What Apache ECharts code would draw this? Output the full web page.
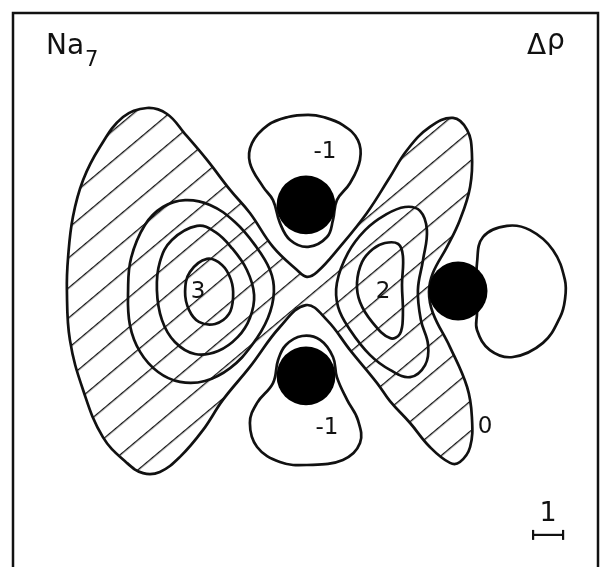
<!DOCTYPE html>
<html>
<head>
<meta charset="utf-8">
<script src="https://cdn.jsdelivr.net/npm/echarts@6/dist/echarts.min.js"></script>
<style>
  html, body { margin: 0; padding: 0; background: #fff; }
  #main { width: 600px; height: 567px; }
</style>
</head>
<body>
<div id="main"></div>
<script>
// Difference density Δρ of Na7, contour map. Lengths are in units of the scale bar (1).

// Zero contour: boundary of the positive (hatched) region
const contourZero = [
  [-5.30, 6.10], [-4.63, 5.90], [-4.03, 5.23], [-3.30, 4.37], [-2.53, 3.37], [-1.87, 2.60],
  [-1.10, 1.47], [-0.30, 0.70], [0.03, 0.47], [0.37, 0.63], [1.13, 1.47], [2.03, 2.60],
  [2.80, 3.80], [3.37, 4.70], [4.13, 5.47], [4.90, 5.77], [5.37, 5.37], [5.53, 4.60],
  [5.47, 3.47], [5.13, 2.37], [4.70, 1.47], [4.23, 0.60], [4.10, -0.03], [4.23, -0.73],
  [4.80, -1.87], [5.37, -3.20], [5.53, -4.20], [5.47, -5.20], [5.13, -5.70], [4.80, -5.73],
  [4.13, -5.20], [3.47, -4.40], [2.80, -3.67], [2.37, -3.07], [1.47, -1.97], [0.70, -0.97],
  [0.00, -0.47], [-0.87, -1.20], [-1.87, -2.53], [-2.77, -3.63], [-3.43, -4.63], [-4.20, -5.53],
  [-4.87, -6.03], [-5.43, -6.07], [-5.97, -5.73], [-6.77, -4.87], [-7.43, -3.30], [-7.87, -1.63],
  [-7.97, 0.03], [-7.93, 1.13], [-7.77, 2.47], [-7.43, 3.70], [-6.87, 4.80], [-6.10, 5.80]
];

// Positive contours around the left maximum (levels 1, 2, 3)
const contourLeft1 = [
  [-4.03, 3.03], [-3.20, 2.87], [-2.37, 2.30], [-1.70, 1.53], [-1.20, 0.70], [-1.07, -0.03],
  [-1.27, -0.90], [-1.80, -1.80], [-2.53, -2.57], [-3.37, -3.00], [-4.20, -3.03], [-4.93, -2.70],
  [-5.53, -2.03], [-5.87, -1.13], [-5.93, 0.03], [-5.83, 1.10], [-5.37, 2.20], [-4.77, 2.80]
];
const contourLeft2 = [
  [-3.63, 2.17], [-3.03, 1.97], [-2.47, 1.43], [-1.97, 0.70], [-1.73, -0.13], [-1.87, -0.90],
  [-2.27, -1.53], [-2.93, -2.00], [-3.70, -2.10], [-4.37, -1.70], [-4.80, -0.97], [-4.97, 0.03],
  [-4.87, 0.97], [-4.47, 1.70]
];
const contourLeft3 = [
  [-3.30, 1.07], [-2.80, 0.87], [-2.50, 0.37], [-2.43, -0.20], [-2.57, -0.77], [-3.03, -1.10],
  [-3.57, -1.03], [-3.90, -0.63], [-4.03, -0.03], [-3.87, 0.63]
];

// Positive contours around the right maximum (levels 1, 2)
const contourRight1 = [
  [3.30, 2.80], [3.80, 2.67], [4.03, 2.03], [3.90, 1.03], [3.73, 0.03], [3.83, -0.97],
  [4.07, -1.80], [3.97, -2.47], [3.47, -2.87], [2.80, -2.63], [2.13, -2.13], [1.47, -1.30],
  [1.07, -0.53], [1.03, 0.27], [1.40, 1.27], [1.97, 2.03], [2.63, 2.53]
];
const contourRight2 = [
  [2.63, 1.60], [3.07, 1.57], [3.23, 1.17], [3.20, 0.20], [3.23, -0.80], [3.13, -1.43],
  [2.80, -1.57], [2.20, -1.03], [1.80, -0.37], [1.70, 0.27], [1.87, 0.97], [2.23, 1.40]
];

// Negative lobes (level -1)
const contourTopNeg = [
  [0.07, 5.87], [0.57, 5.80], [1.23, 5.53], [1.73, 5.03], [1.80, 4.37], [1.47, 3.60],
  [1.03, 3.03], [0.90, 2.37], [0.70, 1.80], [0.07, 1.47], [-0.53, 1.70], [-0.87, 2.27],
  [-1.10, 3.03], [-1.43, 3.47], [-1.87, 4.27], [-1.80, 4.93], [-1.27, 5.53], [-0.60, 5.80]
];
const contourBottomNeg = [
  [-0.13, -1.50], [0.47, -1.63], [0.90, -2.20], [1.03, -2.87], [1.37, -3.63], [1.73, -4.30],
  [1.80, -5.07], [1.23, -5.63], [0.03, -5.80], [-0.87, -5.70], [-1.63, -5.20], [-1.87, -4.40],
  [-1.63, -3.73], [-1.10, -3.07], [-0.93, -2.30], [-0.67, -1.80]
];
const contourRightNeg = [
  [6.70, 2.17], [7.47, 2.03], [8.23, 1.37], [8.63, 0.37], [8.63, -0.30], [8.47, -0.87],
  [7.90, -1.73], [6.90, -2.20], [6.13, -1.97], [5.70, -1.30], [5.70, -0.73], [5.70, 0.03],
  [5.70, 0.93], [5.90, 1.80]
];

const contourLevels = [0, 1, 2, 3, 1, 2, -1, -1, -1];
const contourPaths = [
  contourZero, contourLeft1, contourLeft2, contourLeft3,
  contourRight1, contourRight2, contourTopNeg, contourBottomNeg, contourRightNeg
];

// Nuclei positions
const atomX = [0.00, 0.00, 5.07];
const atomY = [2.87, -2.83, 0.00];

// Contour level labels
const labelText = ['3', '2', '0', '-1', '-1'];
const labelX = [-3.60, 2.57, 5.97, 0.63, 0.70];
const labelY = [-0.03, -0.03, -4.53, 4.63, -4.57];

// Length scale bar
const scaleBarStart = [7.57, -8.13];
const scaleBarLength = 1;
const scaleBarText = '1';

const FONT = '"DejaVu Sans", "Liberation Sans", sans-serif';
const INK = '#111';
const ATOM_R = 0.98;
const HATCH_GAP = 23;
const HATCH_ANGLE = 40;

// Tile with one horizontal stroke; rotated to give the diagonal hatching
const tile = document.createElement('canvas');
tile.width = 8;
tile.height = HATCH_GAP;
const tctx = tile.getContext('2d');
tctx.fillStyle = INK;
tctx.fillRect(0, Math.floor(HATCH_GAP / 2), 8, 1.3);
const hatchFill = {
  image: tile,
  repeat: 'repeat',
  rotation: -HATCH_ANGLE * Math.PI / 180
};

const titleStyle = (size) => ({ fontFamily: FONT, fontSize: size, fontWeight: 'normal', color: INK });

const chart = echarts.init(document.getElementById('main'));
chart.setOption({
  animation: false,
  backgroundColor: '#fff',
  title: [
    { text: 'Na', left: 46, top: 33, padding: 0, textStyle: titleStyle(28) },
    { text: '7', left: 85, top: 50, padding: 0, textStyle: titleStyle(21) },
    { text: 'Δ', left: 527, top: 33, padding: 0, textStyle: titleStyle(28) },
    { text: 'ρ', left: 547, top: 28, padding: 0, textStyle: titleStyle(28) }
  ],
  // frame around the map
  graphic: [{
    type: 'polyline',
    silent: true,
    shape: { points: [[13, 567], [13, 13], [598, 13], [598, 567]] },
    style: { fill: 'none', stroke: INK, lineWidth: 2.5 }
  }],
  grid: { left: 12, top: 12, right: 0, bottom: 0, show: false },
  xAxis: { type: 'value', min: -9.8, max: 9.8, show: false },
  yAxis: { type: 'value', min: -9.2, max: 9.3, show: false },
  series: [
    {
      type: 'custom',
      name: 'contours',
      silent: true,
      z: 2,
      data: contourLevels.map((lv, i) => [i, lv]),
      renderItem: (params, api) => {
        const idx = params.dataIndex;
        const pts = contourPaths[idx].map(p => api.coord(p));
        return {
          type: 'polygon',
          shape: { points: pts, smooth: 0.4 },
          style: {
            fill: contourLevels[idx] === 0 ? hatchFill : 'none',
            stroke: INK,
            lineWidth: 2.7
          }
        };
      }
    },
    {
      type: 'custom',
      name: 'atoms',
      silent: true,
      z: 3,
      data: atomX.map((x, i) => [x, atomY[i]]),
      renderItem: (params, api) => {
        const c = api.coord([api.value(0), api.value(1)]);
        const r = api.size([ATOM_R, 0])[0];
        return { type: 'circle', shape: { cx: c[0], cy: c[1], r: r }, style: { fill: '#000' } };
      }
    },
    {
      type: 'custom',
      name: 'levels',
      silent: true,
      z: 4,
      data: labelX.map((x, i) => [x, labelY[i]]),
      renderItem: (params, api) => {
        const c = api.coord([api.value(0), api.value(1)]);
        return {
          type: 'text', x: c[0], y: c[1],
          style: {
            text: labelText[params.dataIndex], fill: INK,
            fontFamily: FONT, fontSize: 23, align: 'center', verticalAlign: 'middle'
          }
        };
      }
    },
    {
      type: 'custom',
      name: 'scale',
      silent: true,
      z: 4,
      data: [[scaleBarStart[0], scaleBarStart[1]]],
      renderItem: (params, api) => {
        const a = api.coord([api.value(0), api.value(1)]);
        const b = api.coord([api.value(0) + scaleBarLength, api.value(1)]);
        const lineStyle = { stroke: INK, lineWidth: 2.2 };
        return {
          type: 'group',
          children: [
            { type: 'line', shape: { x1: a[0], y1: a[1], x2: b[0], y2: b[1] }, style: lineStyle },
            { type: 'line', shape: { x1: a[0], y1: a[1] - 5, x2: a[0], y2: a[1] + 5 }, style: lineStyle },
            { type: 'line', shape: { x1: b[0], y1: b[1] - 5, x2: b[0], y2: b[1] + 5 }, style: lineStyle },
            { type: 'text', x: (a[0] + b[0]) / 2, y: a[1] - 7,
              style: { text: scaleBarText, fill: INK, fontFamily: FONT, fontSize: 27,
                       align: 'center', verticalAlign: 'bottom' } }
          ]
        };
      }
    }
  ]
});
</script>
</body>
</html>
